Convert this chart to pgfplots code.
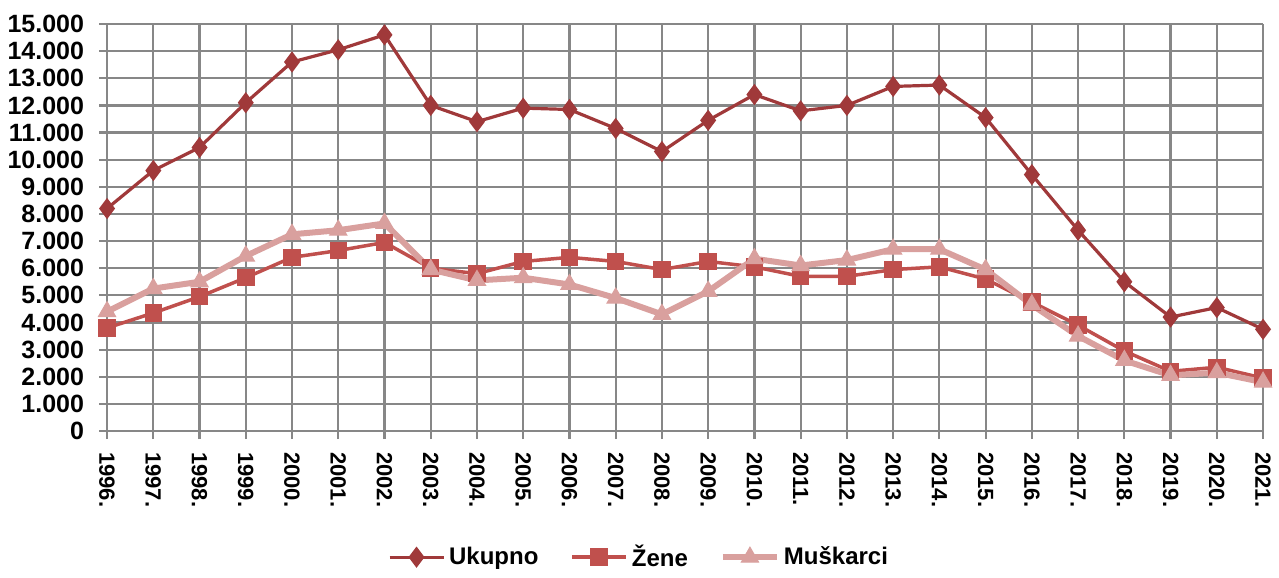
\documentclass[border=0pt]{standalone}
\usepackage{pgfplots}
\usepackage{fontspec}
\setmainfont{Liberation Sans}
\pgfplotsset{compat=1.18}

\definecolor{ukupno}{HTML}{A0393A}
\definecolor{zene}{HTML}{C0504D}
\definecolor{muski}{HTML}{D9A09E}
\definecolor{gridc}{HTML}{878787}

\pgfplotstableread{
x ukupno zene muski
0  8200 3800 4400
1  9600 4350 5250
2  10450 4950 5500
3  12100 5650 6450
4  13600 6400 7250
5  14050 6650 7400
6  14600 6950 7650
7  12000 6000 5950
8  11400 5800 5550
9  11900 6250 5650
10 11850 6400 5400
11 11150 6250 4900
12 10300 5950 4300
13 11450 6250 5150
14 12400 6050 6350
15 11800 5700 6100
16 12000 5700 6300
17 12700 5950 6700
18 12750 6050 6700
19 11550 5600 5950
20 9450 4750 4650
21 7400 3900 3500
22 5500 2950 2600
23 4200 2200 2050
24 4550 2350 2150
25 3750 1950 1800
}\data

\begin{document}
\begin{tikzpicture}
\begin{axis}[
    width=578pt, height=203.5pt,
    scale only axis,
    xmin=0, xmax=25,
    ymin=0, ymax=15000,
    ytick distance=1000,
    xtick={0,...,25},
    xticklabels={1996.,1997.,1998.,1999.,2000.,2001.,2002.,2003.,2004.,2005.,2006.,2007.,2008.,2009.,2010.,2011.,2012.,2013.,2014.,2015.,2016.,2017.,2018.,2019.,2020.,2021.},
    x tick label style={rotate=-90, anchor=west, font=\bfseries\fontsize{11}{12}\selectfont, xshift=3pt},
    y tick label style={font=\bfseries\fontsize{12.5}{14}\selectfont, xshift=-4pt},
    scaled ticks=false,
    /pgf/number format/.cd, 1000 sep={.}, assume math mode=true,
    /pgfplots/.cd,
    grid=major,
    major grid style={gridc, line width=1.1pt},
    axis line style={gridc, line width=1.1pt},
    axis x line*=bottom, axis y line*=left,
    tick style={gridc, line width=1.1pt},
    tick align=outside,
    major tick length=4pt,
    clip=false,
    legend style={
        at={(0.461,-0.31)}, anchor=center,
        draw=none, legend columns=-1,
        font=\bfseries\fontsize{12}{14}\selectfont,
        /tikz/every even column/.append style={column sep=14pt},
    },
    legend image code/.code={%
        \draw[mark repeat=2,mark phase=2] plot coordinates {(0pt,0pt) (13.5pt,0pt) (27pt,0pt)};},
    legend cell align=left,
]
\addplot[ukupno, line width=1.6pt, mark=diamond*, mark size=4pt] table[x=x, y=ukupno] {\data};
\addlegendentry{Ukupno}
\addplot[zene, line width=1.75pt, mark=square*, mark size=3.5pt] table[x=x, y=zene] {\data};
\addlegendentry{Žene}
\addplot[muski, line width=3pt, mark=triangle*, mark size=5pt, mark options={line width=0.5pt}] table[x=x, y=muski] {\data};
\addlegendentry{Muškarci}
\path (rel axis cs:-0.0926,1.059) (rel axis cs:1.0138,-0.349);
\end{axis}
\end{tikzpicture}
\end{document}
